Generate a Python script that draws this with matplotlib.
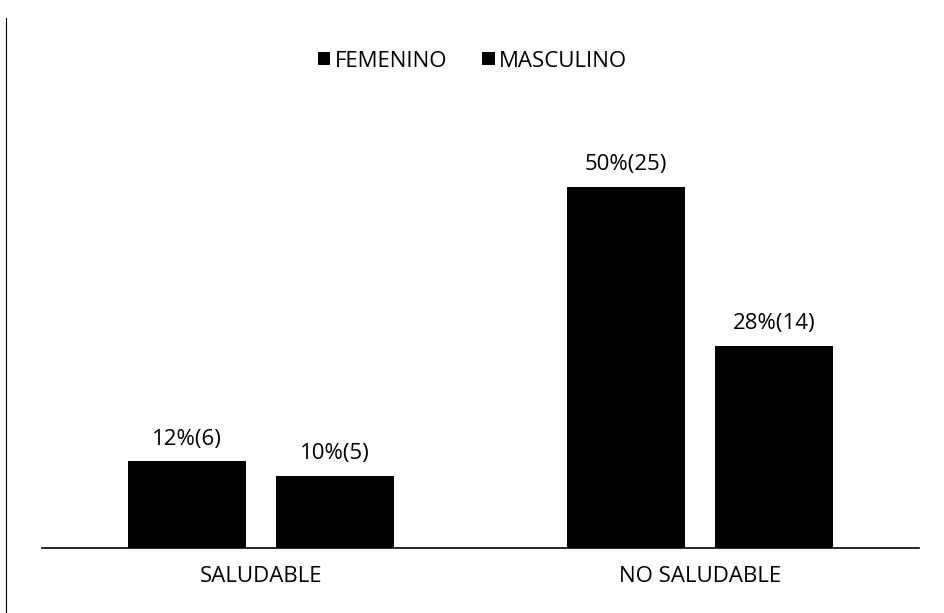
import matplotlib.pyplot as plt
import numpy as np

plt.rcParams['font.family'] = ['Open Sans', 'DejaVu Sans']

categories = ["SALUDABLE", "NO SALUDABLE"]
series_names = ["FEMENINO", "MASCULINO"]
femenino = [12, 50]
masculino = [10, 28]
fem_labels = ["12%(6)", "50%(25)"]
masc_labels = ["10%(5)", "28%(14)"]

fig = plt.figure(figsize=(9.45, 6.13), dpi=100)
ax = fig.add_axes([0.044, 0.106, 0.929, 0.731])

x = np.arange(len(categories))
w = 0.268
off = 0.168
b1 = ax.bar(x - off, femenino, w, color="black", label=series_names[0])
b2 = ax.bar(x + off, masculino, w, color="black", label=series_names[1])

for bars, labs in [(b1, fem_labels), (b2, masc_labels)]:
    for bar, lab in zip(bars, labs):
        ax.text(bar.get_x() + bar.get_width() / 2, bar.get_height() + 1.6, lab,
                ha="center", va="bottom", fontsize=16)

ax.set_xlim(-0.5, 1.5)
ax.set_ylim(0, 62)
ax.set_xticks(x)
ax.set_xticklabels(categories, fontsize=16)
ax.tick_params(axis="x", length=0, pad=13)
ax.set_yticks([])
for s in ["top", "right", "left"]:
    ax.spines[s].set_visible(False)
ax.spines["bottom"].set_linewidth(1.2)

fig.legend(loc="upper center", bbox_to_anchor=(0.5, 0.95), ncol=2, frameon=False,
           fontsize=16, handlelength=0.55, handleheight=0.55, handletextpad=0.2,
           columnspacing=1.6)

# left edge of the scanned frame
fig.add_artist(plt.Line2D([0.006, 0.006], [0.0, 0.97], color="black", lw=0.8))

fig.savefig("out.png", dpi=100)
